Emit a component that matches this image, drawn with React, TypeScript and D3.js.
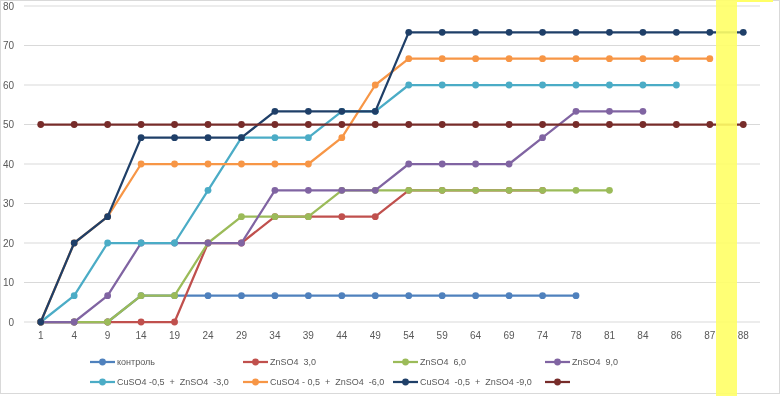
import React, { useRef, useEffect } from 'react';
import * as d3 from 'd3';

// x categories (days)
const categories = ['1', '4', '9', '14', '19', '24', '29', '34', '39', '44', '49', '54', '59', '64', '69', '74', '78', '81', '84', '86', '87', '88'];
const yTicks = [0, 10, 20, 30, 40, 50, 60, 70, 80];

const control = [0, 0, 0, 6.67, 6.67, 6.67, 6.67, 6.67, 6.67, 6.67, 6.67, 6.67, 6.67, 6.67, 6.67, 6.67, 6.67];
const zn3 = [0, 0, 0, 0, 0, 20, 20, 26.67, 26.67, 26.67, 26.67, 33.33, 33.33, 33.33, 33.33, 33.33];
const zn6 = [0, 0, 0, 6.67, 6.67, 20, 26.67, 26.67, 26.67, 33.33, 33.33, 33.33, 33.33, 33.33, 33.33, 33.33, 33.33, 33.33];
const zn9 = [0, 0, 6.67, 20, 20, 20, 20, 33.33, 33.33, 33.33, 33.33, 40, 40, 40, 40, 46.67, 53.33, 53.33, 53.33];
const cuZn3 = [0, 6.67, 20, 20, 20, 33.33, 46.67, 46.67, 46.67, 53.33, 53.33, 60, 60, 60, 60, 60, 60, 60, 60, 60];
const cuZn6 = [0, 20, 26.67, 40, 40, 40, 40, 40, 40, 46.67, 60, 66.67, 66.67, 66.67, 66.67, 66.67, 66.67, 66.67, 66.67, 66.67, 66.67];
const cuZn9 = [0, 20, 26.67, 46.67, 46.67, 46.67, 46.67, 53.33, 53.33, 53.33, 53.33, 73.33, 73.33, 73.33, 73.33, 73.33, 73.33, 73.33, 73.33, 73.33, 73.33, 73.33];
const flat50 = [50, 50, 50, 50, 50, 50, 50, 50, 50, 50, 50, 50, 50, 50, 50, 50, 50, 50, 50, 50, 50, 50];

const seriesNames = ['контроль', 'ZnSO4  3,0', 'ZnSO4  6,0', 'ZnSO4  9,0', 'CuSO4 -0,5  +  ZnSO4  -3,0', 'CuSO4 - 0,5  +  ZnSO4  -6,0', 'CuSO4  -0,5  +  ZnSO4 -9,0', ''];
const seriesColors = ['#4F81BD', '#C0504D', '#9BBB59', '#8064A2', '#4BACC6', '#F79646', '#1F3F68', '#772C2A'];

const App = () => {
  const svgRef = useRef<SVGSVGElement>(null);
  const width = 780;
  const height = 396;

  useEffect(() => {
    const svg = d3.select(svgRef.current);
    svg.selectAll('*').remove();

    const allSeries = [control, zn3, zn6, zn9, cuZn3, cuZn6, cuZn9, flat50];

    const x = d3.scaleBand().domain(categories).range([24, 760]);
    const y = d3.scaleLinear().domain([0, 80]).range([322, 6]);
    const cx = (i: number) => (x(categories[i]) as number) + x.bandwidth() / 2;

    svg.append('rect')
      .attr('x', 0.5).attr('y', 0.5)
      .attr('width', width - 1).attr('height', 393)
      .attr('fill', '#fff')
      .attr('stroke', '#D9D9D9');

    // gridlines
    svg.append('g')
      .selectAll('line')
      .data(yTicks)
      .enter()
      .append('line')
        .attr('x1', 24).attr('x2', 760)
        .attr('y1', d => y(d)).attr('y2', d => y(d))
        .attr('stroke', '#D9D9D9')
        .attr('stroke-width', 1);

    // y tick labels
    svg.append('g')
      .selectAll('text')
      .data(yTicks)
      .enter()
      .append('text')
        .attr('x', 14)
        .attr('y', d => y(d) + 3.5)
        .attr('text-anchor', 'end')
        .attr('font-family', 'Liberation Sans, Arial, sans-serif')
        .attr('font-size', 10)
        .attr('fill', '#595959')
        .text(d => d);

    // x tick labels
    svg.append('g')
      .selectAll('text')
      .data(categories)
      .enter()
      .append('text')
        .attr('x', (d, i) => cx(i))
        .attr('y', 339)
        .attr('text-anchor', 'middle')
        .attr('font-family', 'Liberation Sans, Arial, sans-serif')
        .attr('font-size', 10)
        .attr('fill', '#595959')
        .text(d => d);

    const line = d3.line<number>()
      .x((d, i) => cx(i))
      .y(d => y(d));

    allSeries.forEach((values, s) => {
      const g = svg.append('g');
      g.append('path')
        .attr('d', line(values))
        .attr('fill', 'none')
        .attr('stroke', seriesColors[s])
        .attr('stroke-width', 2.25)
        .attr('stroke-linejoin', 'round');
      g.selectAll('circle')
        .data(values)
        .enter()
        .append('circle')
          .attr('cx', (d, i) => cx(i))
          .attr('cy', d => y(d))
          .attr('r', 3.4)
          .attr('fill', seriesColors[s]);
    });

    // legend
    const legendX = [90, 243, 393, 545];
    const legendY = [362, 382];
    seriesNames.forEach((name, s) => {
      const lx = legendX[s % 4];
      const ly = legendY[Math.floor(s / 4)];
      const g = svg.append('g');
      g.append('line')
        .attr('x1', lx).attr('x2', lx + 25)
        .attr('y1', ly).attr('y2', ly)
        .attr('stroke', seriesColors[s])
        .attr('stroke-width', 2.25);
      g.append('circle')
        .attr('cx', lx + 12.5).attr('cy', ly)
        .attr('r', 3.4)
        .attr('fill', seriesColors[s]);
      g.append('text')
        .attr('x', lx + 27)
        .attr('y', ly + 3.2)
        .attr('font-family', 'Liberation Sans, Arial, sans-serif')
        .attr('font-size', 9)
        .attr('fill', '#595959')
        .style('white-space', 'pre')
        .text(name);
    });

    // yellow highlight
    svg.append('rect')
      .attr('x', 716).attr('y', 0)
      .attr('width', 21).attr('height', height)
      .attr('fill', '#FFFF66')
      .attr('opacity', 0.9);
    svg.append('rect')
      .attr('x', 737).attr('y', 0)
      .attr('width', 36).attr('height', 2)
      .attr('fill', '#FFFF66');
  }, [svgRef]);

  return (
    <div style={{ position: 'fixed', top: 0, left: 0 }}>
      <svg ref={svgRef} width={width} height={height} style={{ display: 'block' }}></svg>
    </div>
  );
};

export default App;
